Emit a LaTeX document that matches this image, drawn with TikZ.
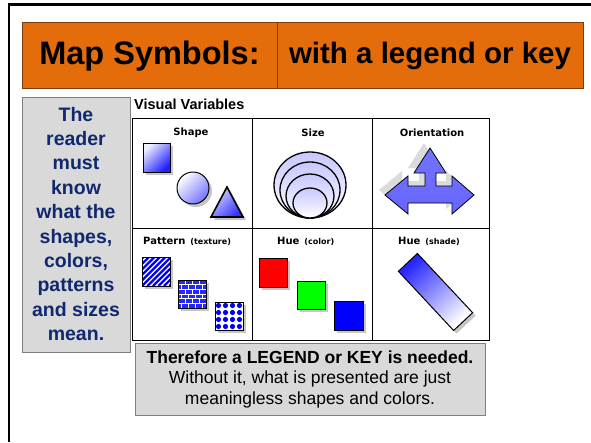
\documentclass[tikz,border=0pt]{standalone}
\usepackage{fontspec}
\setmainfont{Liberation Sans}
\newfontfamily\vfont{DejaVu Sans}
\definecolor{orfill}{HTML}{E46C0A}
\definecolor{oredge}{HTML}{7F3A08}
\definecolor{boxgray}{HTML}{D9D9D9}
\definecolor{boxedge}{HTML}{7F7F7F}
\definecolor{navytext}{RGB}{16,40,110}
\tikzset{
  orangebox/.style={draw=oredge, fill=orfill, line width=0.8},
  graybox/.style={draw=boxedge, fill=boxgray, line width=0.8},
  titletext/.style={inner sep=0, text=black},
  vlabel/.style={inner sep=0, font=\vfont\fontsize{10}{12}\selectfont\bfseries},
  shadowfill/.style={fill=gray!45},
  symedge/.style={draw=black, line width=1},
}
\begin{document}
\begin{tikzpicture}[x=1pt,y=-1pt]
\useasboundingbox (0,0) rectangle (591,442);
\fill[white] (0,0) rectangle (591,442);
% slide frame
\draw[line width=2.5] (9,442) -- (9,4.5) -- (591,4.5);
% title
\draw[orangebox] (22,22) rectangle (277,88);
\draw[orangebox] (277,22) rectangle (583,88);
\node[titletext, font=\fontsize{32.5}{36}\selectfont\bfseries] (t1) at (149.5,56) {Map Symbols:};
\node[titletext, font=\fontsize{29.5}{34}\selectfont\bfseries] (t2) at (430,56) {with a legend or key};
% left box
\draw[graybox] (22,97) rectangle (130,352);
\node[inner sep=0, align=center, text=navytext, font=\fontsize{19.5}{24.4}\selectfont\bfseries] (reader) at (76,224)
  {The\\reader\\must\\know\\what the\\shapes,\\colors,\\patterns\\and sizes\\mean.};
% visual variables panel
\node[inner sep=0, anchor=west, font=\fontsize{14.5}{16}\selectfont\bfseries] (vv) at (134,104) {Visual Variables};
\draw[fill=white, line width=1] (132,118) rectangle (489,340);
\draw[line width=1] (252,118) -- (252,340) (372,118) -- (372,340) (132,228) -- (489,228);
% --- Shape
\node[vlabel] (lshape) at (191,133) {Shape};
\fill[shadowfill] (146,146) rectangle (173,175);
\draw[symedge, top color=blue!6, bottom color=blue!88, shading angle=45] (143,143) rectangle (170,172);
\fill[shadowfill] (196,191) circle (16);
\draw[symedge, top color=white, bottom color=blue!55, shading angle=45] (193,188) circle (16);
\fill[shadowfill] (230,190) -- (246,220) -- (214,220) -- cycle;
\draw[symedge, line width=1.6, top color=blue!15, bottom color=blue!80, shading angle=45] (227,187) -- (243,217) -- (211,217) -- cycle;
% --- Size
\node[vlabel] (lsize) at (313,133) {Size};
\foreach \rx/\ry in {36/33, 30/28, 24/22, 17/15}{
  \draw[line width=1.3, top color=blue!22, bottom color=white] (310,218-\ry) ellipse ({\rx} and {\ry});
}
% --- Orientation
\node[vlabel] (lorient) at (432,133) {Orientation};
\begin{scope}[shift={(-6,-5)}]
\fill[gray!28] (430,148) -- (446,173) -- (436,173) -- (436,186) -- (452,186) -- (452,176) -- (474,195) -- (452,214) -- (452,203) -- (408,203) -- (408,214) -- (385,195) -- (408,176) -- (408,186) -- (425,186) -- (425,173) -- (414,173) -- cycle;
\end{scope}
\draw[line width=0.8, top color=blue!55, middle color=blue!6, bottom color=blue!60]
  (430,148) -- (446,173) -- (436,173) -- (436,186) -- (452,186) -- (452,176) -- (474,195) -- (452,214) -- (452,203) -- (408,203) -- (408,214) -- (385,195) -- (408,176) -- (408,186) -- (425,186) -- (425,173) -- (414,173) -- cycle;
% --- Pattern
\node[inner sep=0, anchor=west] (lpattern) at (143,241) {\vfont\fontsize{10}{12}\selectfont\bfseries Pattern\hspace{5pt}\fontsize{8}{10}\selectfont (texture)};
% hatch
\fill[shadowfill] (145,260) rectangle (173,289);
\begin{scope}
\clip (142,257) rectangle (170,286);
\fill[white] (142,257) rectangle (170,286);
\foreach \s in {-33,-27.5,...,33}{\draw[blue, line width=2.2] (142+\s,286) -- (171+\s,257);}
\end{scope}
\draw[line width=1] (142,257) rectangle (170,286);
% bricks
\fill[shadowfill] (181,283) rectangle (209,311);
\begin{scope}
\clip (178,280) rectangle (206,308);
\fill[blue!85] (178,280) rectangle (206,308);
\foreach \k in {1,...,5}{\draw[white, line width=1] (178,280+\k*4.67) -- (206,280+\k*4.67);}
\foreach \k in {0,...,5}{\foreach \j in {0,...,4}{\draw[white, line width=1] ({178+\j*7+mod(\k,2)*3.5},{280+\k*4.67}) -- ++(0,4.67);}}
\end{scope}
\draw[line width=1] (178,280) rectangle (206,308);
% dots
\fill[shadowfill] (218,305) rectangle (246,333);
\fill[white] (215,302) rectangle (243,330);
\begin{scope}
\clip (215,302) rectangle (243,330);
\foreach \i in {0,...,3}{\foreach \j in {0,...,3}{\fill[blue] (218.5+\i*7,305.5+\j*7) circle (2.6);}}
\end{scope}
\draw[line width=1] (215,302) rectangle (243,330);
% --- Hue (color)
\node[inner sep=0, anchor=west] (lhue) at (277,241) {\vfont\fontsize{10}{12}\selectfont\bfseries Hue\hspace{5pt}\fontsize{8}{10}\selectfont (color)};
\fill[shadowfill] (262,261) rectangle (290,290);
\draw[line width=1, fill=red] (259,258) rectangle (287,287);
\fill[shadowfill] (300,284) rectangle (328,312);
\draw[line width=1, fill=green] (297,281) rectangle (325,309);
\fill[shadowfill] (337,304) rectangle (366,333);
\draw[line width=1, fill=blue] (334,301) rectangle (363,330);
% --- Hue (shade)
\node[inner sep=0, anchor=west] (lshade) at (398,241) {\vfont\fontsize{10}{12}\selectfont\bfseries Hue\hspace{5pt}\fontsize{8}{10}\selectfont (shade)};
\fill[shadowfill] (420.4,256.5) -- (475.6,315.7) -- (456.6,333.5) -- (401.4,274.3) -- cycle;
\draw[line width=1, top color=blue!85, bottom color=white, shading angle=43]
  (417.4,253.5) -- (472.6,312.7) -- (453.6,330.5) -- (398.4,271.3) -- cycle;
% bottom box
\draw[graybox] (135,343) rectangle (485,415);
\node[inner sep=0, align=center, font=\fontsize{17.5}{20.5}\selectfont] (legend) at (310,379)
  {\textbf{Therefore a LEGEND or KEY is needed.}\\Without it, what is presented are just\\meaningless shapes and colors.};
\end{tikzpicture}
\end{document}
